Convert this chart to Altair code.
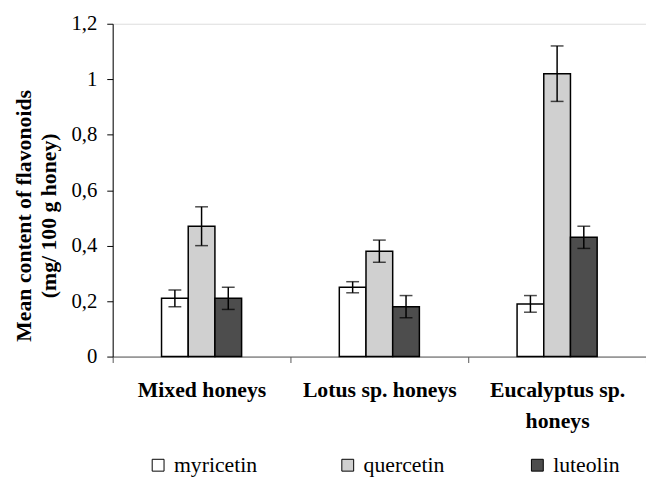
import altair as alt
import pandas as pd

groups = ["Mixed honeys", "Lotus sp. honeys", "Eucalyptus sp. honeys"]
compounds = ["myricetin", "quercetin", "luteolin"]
myricetin = [0.21, 0.25, 0.19]
myricetin_err = [0.03, 0.02, 0.03]
quercetin = [0.47, 0.38, 1.02]
quercetin_err = [0.07, 0.04, 0.10]
luteolin = [0.21, 0.18, 0.43]
luteolin_err = [0.04, 0.04, 0.04]
colors = ["#ffffff", "#d0d0d0", "#4d4d4d"]
y_ticks = [0, 0.2, 0.4, 0.6, 0.8, 1.0, 1.2]

rows = []
for comp, vals, errs in [("myricetin", myricetin, myricetin_err),
                         ("quercetin", quercetin, quercetin_err),
                         ("luteolin", luteolin, luteolin_err)]:
    for g, v, e in zip(groups, vals, errs):
        rows.append({"group": g, "compound": comp, "value": v,
                     "lo": v - e, "hi": v + e})
df = pd.DataFrame(rows)

FONT = "Liberation Serif"
# empty slots on either side of the three bars within each group
offset_domain = ["_pad1"] + compounds + ["_pad2"]

x_enc = alt.X(
    "group:N", sort=groups,
    scale=alt.Scale(paddingInner=0, paddingOuter=0),
    axis=alt.Axis(
        title=None, labelAngle=0, labelFont=FONT, labelFontSize=22,
        labelFontWeight="bold", labelColor="black", labelPadding=17,
        labelBaseline="top", labelLineHeight=32, tickBand="extent",
        tickSize=6, tickColor="#555555", domainColor="#555555",
        labelExpr="datum.value == 'Eucalyptus sp. honeys' ? ['Eucalyptus sp.', 'honeys'] : datum.value",
    ),
)


def xoff():
    return alt.XOffset("compound:N",
                       scale=alt.Scale(domain=offset_domain, paddingInner=0,
                                       paddingOuter=0.83))


y_enc = alt.Y(
    "value:Q",
    scale=alt.Scale(domain=[0, 1.2], nice=False),
    axis=alt.Axis(
        title=["Mean content of flavonoids", "(mg/ 100 g honey)"],
        titleFont=FONT, titleFontSize=22, titleFontWeight="bold",
        titleColor="black", titleLineHeight=25, titlePadding=11,
        titleY=194,
        values=y_ticks, labelFont=FONT, labelFontSize=21,
        labelColor="black", labelPadding=10, tickSize=6,
        tickColor="black", domainColor="black", grid=False,
        labelExpr="replace(toString(datum.value), '.', ',')",
    ),
)

bars = alt.Chart(df).mark_bar(stroke="black", strokeWidth=1.5).encode(
    x=x_enc, xOffset=xoff(), y=y_enc,
    fill=alt.Fill("compound:N", sort=compounds,
                  scale=alt.Scale(domain=compounds, range=colors),
                  legend=alt.Legend(
                      title=None, orient="none", legendX=35, legendY=436,
                      direction="horizontal", columns=3, gridAlign="all",
                      columnPadding=80, symbolType="square", symbolSize=144,
                      symbolStrokeColor="black", symbolStrokeWidth=1,
                      labelFont=FONT, labelFontSize=22, labelColor="black",
                      labelOffset=5, padding=0)),
)

rules = alt.Chart(df).mark_rule(color="black", strokeWidth=1.5).encode(
    x=alt.X("group:N", sort=groups), xOffset=xoff(),
    y="lo:Q", y2="hi:Q",
)
caps_lo = alt.Chart(df).mark_tick(color="black", thickness=1.5, size=13).encode(
    x=alt.X("group:N", sort=groups), xOffset=xoff(),
    y="lo:Q",
)
caps_hi = alt.Chart(df).mark_tick(color="black", thickness=1.5, size=13).encode(
    x=alt.X("group:N", sort=groups), xOffset=xoff(),
    y="hi:Q",
)

chart = alt.layer(bars, rules, caps_lo, caps_hi).properties(
    width=540, height=337,
    autosize=alt.AutoSizeParams(type="none"),
    padding={"left": 106, "top": 13, "right": 0, "bottom": 121},
).configure_view(stroke=None).configure(background="white")

chart.save("out.html", embed_options={"renderer": "svg", "actions": False})
